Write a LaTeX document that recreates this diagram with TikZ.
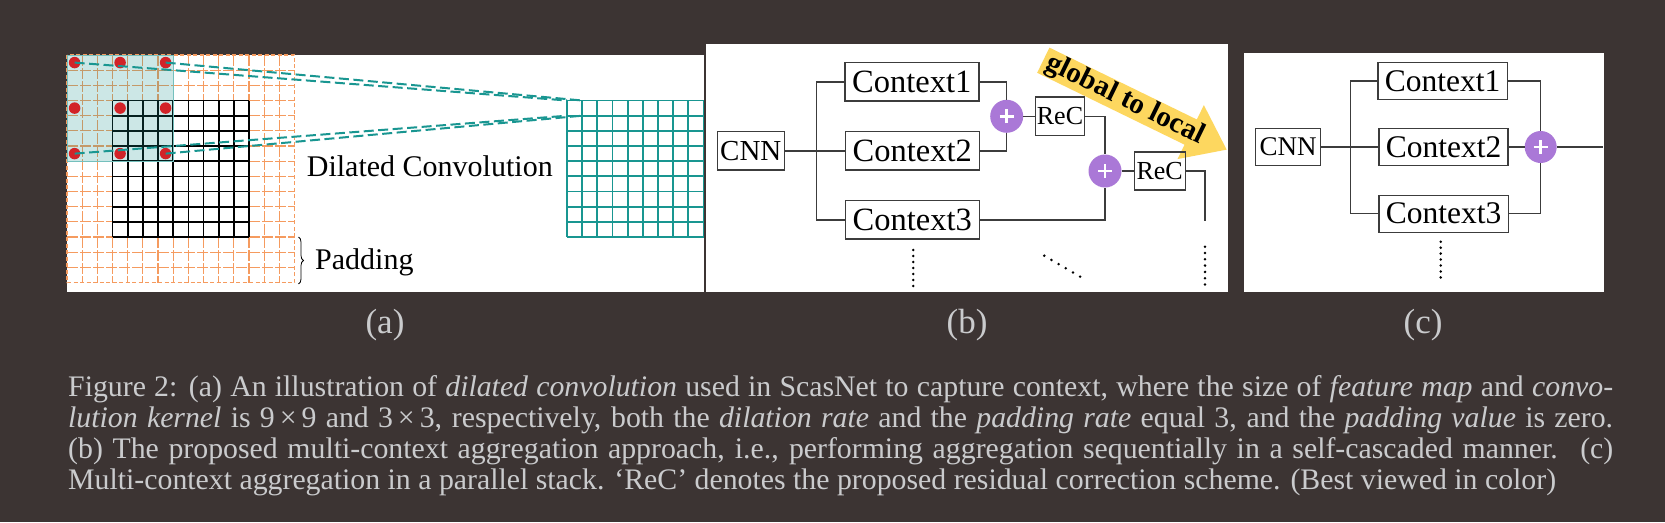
\documentclass[tikz,border=0pt]{standalone}
\usepackage{fontspec}
\setmainfont{Liberation Serif}
\usetikzlibrary{calc, positioning, decorations.pathreplacing, arrows.meta}
\definecolor{bgdark}{RGB}{60,52,51}
\definecolor{captext}{RGB}{202,203,205}
\definecolor{padorange}{RGB}{245,155,95}
\definecolor{kernteal}{RGB}{25,150,145}
\definecolor{dotred}{RGB}{210,35,40}
\definecolor{sumpurple}{RGB}{170,120,215}
\definecolor{arrowyellow}{RGB}{253,215,95}
\definecolor{wiregray}{RGB}{60,60,60}
\newcommand{\pxfont}[1]{\fontsize{#1}{#1}\selectfont}

\begin{document}
\begin{tikzpicture}[x=1pt, y=-1pt,
	padline/.style={draw=padorange, line width=1.2pt, dash pattern=on 11pt off 2pt},
	mapline/.style={draw=black, line width=1.7pt},
	outgrid/.style={draw=kernteal, line width=1.9pt},
	reach/.style={draw=kernteal, line width=2pt, dash pattern=on 10pt off 4.5pt},
	kdot/.style={circle, fill=dotred, minimum size=11.5pt, inner sep=0pt},
	box/.style={draw=wiregray, line width=1.4pt, inner sep=0pt, minimum height=38.3pt, font=\pxfont{32.5}},
	wire/.style={draw=wiregray, line width=1.4pt},
	sumnode/.style={circle, fill=sumpurple, inner sep=0pt, minimum size=33pt, path picture={
		\draw[white, line width=2.6pt] ([xshift=-7pt]path picture bounding box.center) -- ([xshift=7pt]path picture bounding box.center);
		\draw[white, line width=2.6pt] ([yshift=-7pt]path picture bounding box.center) -- ([yshift=7pt]path picture bounding box.center);}},
	dots/.style={draw=black, line width=2.8pt, line cap=round, dash pattern=on 0pt off #1},
	arrowword/.style={rotate=-26, anchor=base, inner sep=0pt, font=\bfseries\pxfont{29}},
	capline/.style={text=captext, anchor=base west, inner sep=0pt, font=\pxfont{29.8}},
	sublabel/.style={text=captext, anchor=base, inner sep=0pt, font=\pxfont{35}}
]
\fill[bgdark] (0,0) rectangle (1665,522);
\useasboundingbox (0,0) rectangle (1665,522);

	% Figure A
\fill[white] (66.7,55) rectangle (703.5,291.7);
\foreach \k in {1,...,14} {
	\draw[padline] (67+\k*15.17,55) -- (67+\k*15.17,282.5);
	\draw[padline] (67,55+\k*15.17) -- (294.5,55+\k*15.17);
}
\draw[padorange, line width=1.2pt, dash pattern=on 4pt off 2.5pt] (67,55) rectangle (294.5,282.5);
\foreach \k in {0,...,9} {
	\draw[mapline] (112.5+\k*15.17,100.5) -- (112.5+\k*15.17,237);
	\draw[mapline] (112.5,100.5+\k*15.17) -- (249,100.5+\k*15.17);
}
\fill[kernteal, opacity=0.22] (67,55) rectangle (173.2,161.2);
\draw[kernteal!60, line width=0.8pt] (67,55) rectangle (173.2,161.2);
\foreach \i in {0,3,6}
	\foreach \j in {0,3,6}
		\node[kdot] (k-\i-\j) at (74.6+\i*15.17,62.6+\j*15.17) {};
\coordinate (o-tl) at (567,100.5);
\coordinate (o-tr) at (582.2,100.5);
\coordinate (o-bl) at (567,115.7);
\coordinate (o-br) at (582.2,115.7);
\draw[reach] (k-0-0.center) -- (o-tl);
\draw[reach] (k-6-0.center) -- (o-tr);
\draw[reach] (k-0-6.center) -- (o-bl);
\draw[reach] (k-6-6.center) -- (o-br);
\foreach \k in {0,...,9} {
	\draw[outgrid] (567+\k*15.17,100.5) -- (567+\k*15.17,237);
	\draw[outgrid] (567,100.5+\k*15.17) -- (703.5,100.5+\k*15.17);
}
\node [font=\pxfont{30},anchor=base west,inner sep=0pt] (dil) at (306.7,176.7) {Dilated Convolution};
\coordinate (pad-top) at (298.5,237);
\coordinate (pad-bot) at (298.5,284);
\draw [decorate, decoration={brace, amplitude=5pt}, line width=0.8pt] (pad-top) -- (pad-bot);
\node [font=\pxfont{30},anchor=base west,inner sep=0pt] (pad) at (315,269.3) {Padding};

	% Figure B
\fill[white] (705.7,44) rectangle (1227.7,291.7);
\begin{scope}
	\clip (705.7,44) rectangle (1227.7,291.7);
	\begin{scope}[shift={(1043.3,60.2)}, rotate=-26]
		\fill[arrowyellow] (0,-14) -- (164,-14) -- (164,-30) -- (204,0) -- (164,30) -- (164,14) -- (0,14) -- cycle;
		\node[arrowword] (w-global) at (42.7,6.8) {global};
		\node[arrowword] (w-to) at (99.9,6.8) {to};
		\node[arrowword] (w-local) at (148.2,6.8) {local};
	\end{scope}
\end{scope}
\node[box, minimum width=67pt, font=\pxfont{29}] (cnnb) at (750.8,150.8) {CNN};
\node[box, minimum width=134pt] (ctxb1) at (911.8,81.8) {Context1};
\node[box, minimum width=134pt] (ctxb2) at (912.3,150.8) {Context2};
\node[box, minimum width=134pt] (ctxb3) at (912.3,219.8) {Context3};
\node[sumnode] (sumb1) at (1006.7,116.3) {};
\node[box, minimum width=49pt, font=\pxfont{26}] (recb1) at (1060,116.3) {ReC};
\node[sumnode] (sumb2) at (1105,171) {};
\node[box, minimum width=51pt, font=\pxfont{26}] (recb2) at (1159.7,171) {ReC};
\coordinate (splitb) at (816.7,150.8);
\coordinate (endb) at (1205,220.7);
\draw[wire] (cnnb) -- (ctxb2);
\draw[wire] (ctxb1.west) -| (splitb) |- (ctxb3.west);
\draw[wire] (ctxb1.east) -| (sumb1);
\draw[wire] (ctxb2.east) -| (sumb1);
\draw[wire] (sumb1) -- (recb1);
\draw[wire] (recb1.east) -| (sumb2);
\draw[wire] (ctxb3.east) -| (sumb2);
\draw[wire] (sumb2) -- (recb2);
\draw[wire] (recb2.east) -| (endb);
\coordinate (vb1) at (913.3,250);
\coordinate (vb2) at (913.3,286.2);
\coordinate (db1) at (1044.3,255.7);
\coordinate (db2) at (1080.3,276.8);
\coordinate (rb1) at (1205,246.7);
\coordinate (rb2) at (1205,284.6);
\draw[dots=6pt] (vb1) -- (vb2);
\draw[dots=8.3pt] (db1) -- (db2);
\draw[dots=6.3pt] (rb1) -- (rb2);

	% Figure C
\fill[white] (1244,53.3) rectangle (1604,291.7);
\node[box, minimum width=64.6pt, minimum height=37.4pt, font=\pxfont{27}] (cnnc) at (1288,147) {CNN};
\node[box, minimum width=129.3pt, minimum height=37pt, font=\pxfont{31.5}] (ctxc1) at (1442.7,80.8) {Context1};
\node[box, minimum width=129.3pt, minimum height=37pt, font=\pxfont{31.5}] (ctxc2) at (1443.5,147) {Context2};
\node[box, minimum width=129.3pt, minimum height=37pt, font=\pxfont{31.5}] (ctxc3) at (1443.7,213.7) {Context3};
\node[sumnode, minimum size=32pt] (sumc) at (1540.7,147) {};
\coordinate (splitc) at (1350.7,147);
\coordinate (outc) at (1603,147);
\draw[wire] (cnnc) -- (ctxc2);
\draw[wire] (ctxc1.west) -| (splitc) |- (ctxc3.west);
\draw[wire] (ctxc1.east) -| (sumc);
\draw[wire] (ctxc3.east) -| (sumc);
\draw[wire] (ctxc2) -- (sumc);
\draw[wire] (sumc) -- (outc);
\coordinate (vc1) at (1440.7,241.7);
\coordinate (vc2) at (1440.7,277.6);
\draw[dots=5.95pt] (vc1) -- (vc2);

	% labels and caption
\node[sublabel] (la) at (385,333) {(a)};
\node[sublabel] (lb) at (967,333) {(b)};
\node[sublabel] (lc) at (1423,333) {(c)};
\node[capline] (cap1) at (68,396) {\makebox[1545pt][s]{Figure 2: (a) An illustration of \textit{dilated convolution} used in ScasNet to capture context, where the size of \textit{feature map} and \textit{convo-}}};
\node[capline] (cap2) at (68,427.3) {\makebox[1545pt][s]{\textit{lution kernel} is 9\hspace{5pt}×\hspace{5pt}9 and 3\hspace{5pt}×\hspace{5pt}3, respectively, both the \textit{dilation rate} and the \textit{padding rate} equal 3, and the \textit{padding value} is zero.}};
\node[capline] (cap3) at (68,458.3) {\makebox[1545pt][s]{(b) The proposed multi-context aggregation approach, i.e., performing aggregation sequentially in a self-cascaded manner.\hspace{6pt} (c)}};
\node[capline] (cap4) at (68,489) {Multi-context aggregation in a parallel stack. `ReC' denotes the proposed residual correction scheme. (Best viewed in color)};
\end{tikzpicture}
\end{document}
